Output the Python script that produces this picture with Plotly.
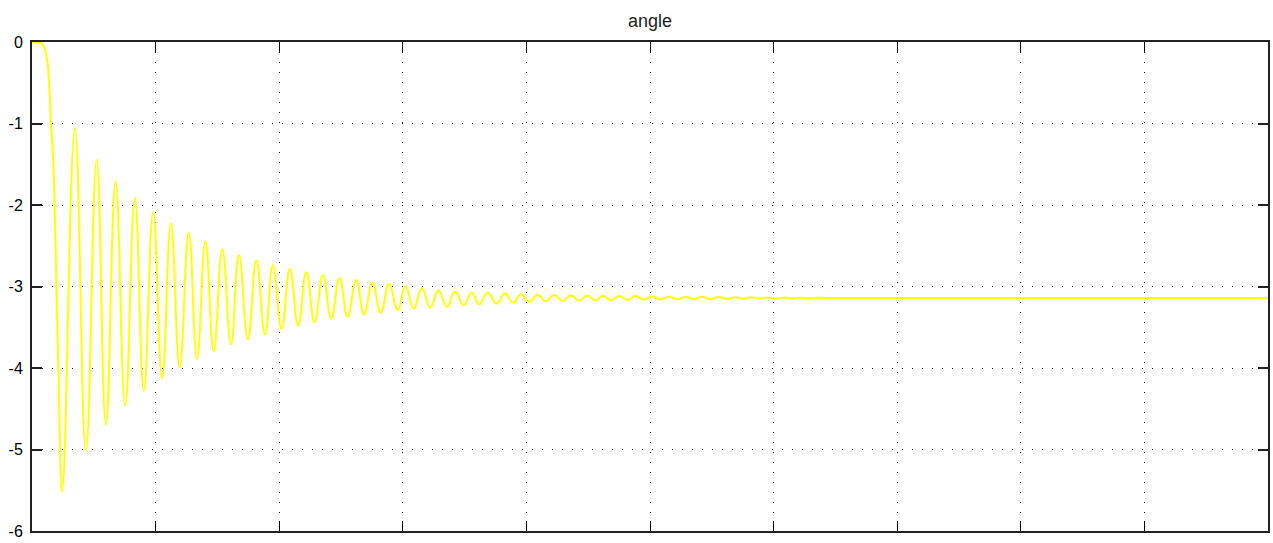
import plotly.graph_objects as go

# time (s) and angle (rad) (start, drop, then extrema, then settled)
t_vals = [0.0, 0.051, 0.091, 0.119, 0.137, 0.153, 0.172, 0.212,
          0.245, 0.347, 0.436, 0.523, 0.598, 0.676, 0.754, 0.832, 0.905, 0.980,
          1.053, 1.124, 1.195, 1.268, 1.335, 1.403, 1.470, 1.540, 1.610, 1.674,
          1.747, 1.815, 1.885, 1.949, 2.019, 2.086, 2.154, 2.219, 2.286, 2.353,
          2.421, 2.488, 2.553, 2.623, 2.687, 2.754, 2.821, 2.889, 2.959, 3.021,
          3.088, 3.154, 3.223, 3.288, 3.358, 3.422, 3.492, 3.557, 3.619, 3.686,
          3.759, 3.826, 3.893, 3.956, 4.023, 4.090, 4.157, 4.225, 4.292, 4.359,
          4.426, 4.494, 4.556, 4.620, 4.685, 4.750, 4.818, 4.883, 4.952, 5.016,
          5.085, 5.153, 5.218, 5.287, 5.355, 5.420, 5.489, 5.553, 5.622, 5.687,
          5.755, 5.820, 5.889, 5.953, 6.022, 6.086, 6.155, 6.220, 6.288, 6.353,
          6.446, 10.0]
angle_vals = [0.0, 0.0, -0.04, -0.18, -0.465, -1.0, -1.48, -3.93,
              -5.52, -1.057, -5.016, -1.445, -4.70, -1.71, -4.465, -1.914, -4.28, -2.085,
              -4.125, -2.225, -3.995, -2.34, -3.885, -2.445, -3.79, -2.54, -3.71, -2.616,
              -3.65, -2.678, -3.59, -2.735, -3.52, -2.785, -3.48, -2.825, -3.437, -2.86,
              -3.395, -2.897, -3.37, -2.92, -3.343, -2.95, -3.32, -2.967, -3.29, -2.996,
              -3.27, -3.02, -3.26, -3.045, -3.25, -3.065, -3.23, -3.073, -3.22, -3.077,
              -3.208, -3.086, -3.20, -3.094, -3.187, -3.100, -3.182, -3.104, -3.178, -3.107,
              -3.175, -3.110, -3.171, -3.113, -3.168, -3.116, -3.165, -3.118, -3.162, -3.121,
              -3.160, -3.123, -3.158, -3.125, -3.157, -3.127, -3.155, -3.129, -3.153, -3.131,
              -3.151, -3.132, -3.150, -3.134, -3.149, -3.135, -3.147, -3.137, -3.145, -3.139,
              -3.1416, -3.1416]

y_ticks = [0, -1, -2, -3, -4, -5, -6]
y_tick_text = ["0", "-1", "-2", "-3", "-4", "-5", "-6"]
x_ticks = [1, 2, 3, 4, 5, 6, 7, 8, 9]

fig = go.Figure()
fig.add_trace(go.Scatter(
    x=t_vals, y=angle_vals, mode="lines",
    line=dict(color="#ffff00", width=2, shape="spline", smoothing=1.3),
    hoverinfo="skip", showlegend=False))

fig.update_layout(
    width=1273, height=543,
    margin=dict(l=32, r=3, t=42, b=11),
    paper_bgcolor="white", plot_bgcolor="white",
    font=dict(family="Liberation Sans, Arial, sans-serif", color="#000000"),
    title=dict(text="angle", x=0.5, xanchor="center", xref="paper",
               y=1 - 26.5 / 543, yanchor="bottom",
               font=dict(size=18, color="#222222")),
    showlegend=False,
)
fig.update_xaxes(
    range=[0, 10], tickvals=x_ticks, showticklabels=False,
    ticks="inside", ticklen=10, tickwidth=1, tickcolor="#000000",
    showline=True, linewidth=2, linecolor="#222222", mirror="allticks",
    showgrid=True, gridcolor="#000000", gridwidth=1, griddash="1px,9px",
    zeroline=False, fixedrange=True)
fig.update_yaxes(
    range=[-6, 0], tickvals=y_ticks, ticktext=y_tick_text,
    ticks="inside", ticklen=10, tickwidth=2, tickcolor="#222222",
    ticklabelstandoff=4,
    tickfont=dict(size=16, color="#000000"),
    showline=True, linewidth=2, linecolor="#222222", mirror="allticks",
    showgrid=True, gridcolor="#000000", gridwidth=1, griddash="1px,9px",
    zeroline=False, fixedrange=True)

fig.write_html("out.html")
